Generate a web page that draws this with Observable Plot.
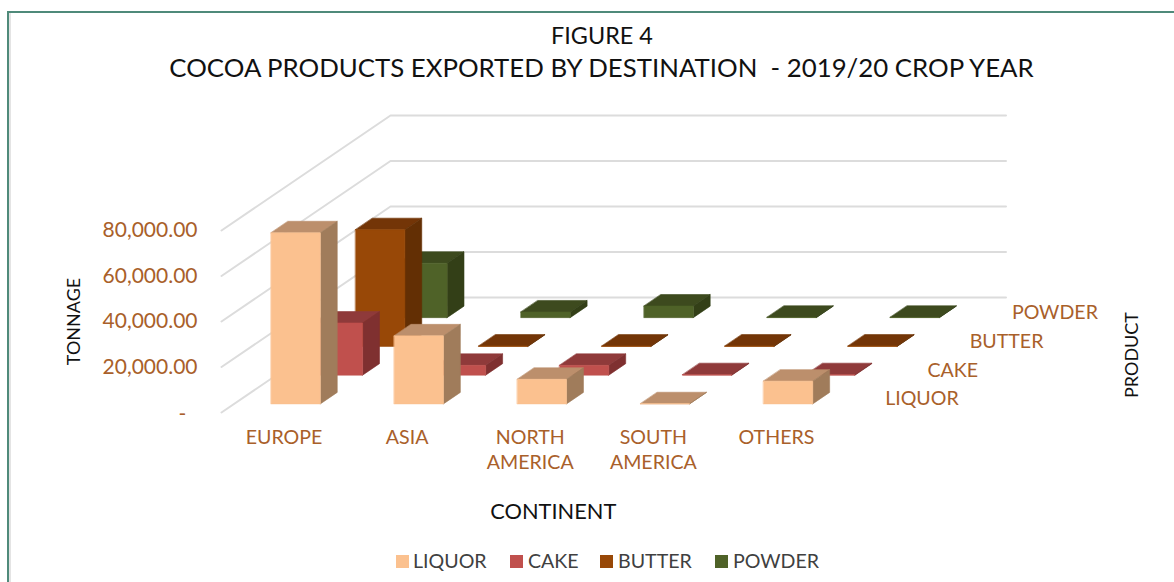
<!DOCTYPE html>
<html>
<head>
<meta charset="utf-8">
<script src="https://cdn.jsdelivr.net/npm/d3@7"></script>
<script src="https://cdn.jsdelivr.net/npm/@observablehq/plot@0.6"></script>
<style>
  html, body { margin: 0; padding: 0; background: #fff; }
  #page { position: relative; width: 1174px; height: 582px; overflow: hidden; font-family: Lato, sans-serif; }
  #frame { position: absolute; left: 7px; top: 11px; width: 1300px; height: 700px; border: 2px solid #4f8a7a; box-shadow: inset 2px 0 0 #e4e4e4; }
  #chart { position: absolute; left: 0; top: 0; }
  .title { position: absolute; left: 0; text-align: center; color: #111; white-space: pre; }
  #fig { top: 22px; width: 1204px; font-size: 23.4px; line-height: 26px; }
  #main { top: 51px; width: 1203px; font-size: 25.8px; line-height: 32px; }
  .item { position: absolute; top: 550px; height: 22px; line-height: 22px; font-size: 19.6px; color: #404040; white-space: nowrap; }
  .swatch { position: absolute; top: 555px; width: 13px; height: 13px; }
</style>
</head>
<body>
<div id="page">
  <div id="frame"></div>
  <div id="chart"></div>
  <div id="fig" class="title">FIGURE 4</div>
  <div id="main" class="title">COCOA PRODUCTS EXPORTED BY DESTINATION  - 2019/20 CROP YEAR</div>
  <div id="legend"></div>
</div>
<script>
const continents = ["EUROPE", "ASIA", "NORTH\nAMERICA", "SOUTH\nAMERICA", "OTHERS"];
const products = ["LIQUOR", "CAKE", "BUTTER", "POWDER"];
const liquor = [75200, 29900, 10800, 60, 10000];
const cake = [22900, 4300, 4300, 200, 200];
const butter = [51300, 150, 120, 150, 150];
const powder = [23900, 2500, 5100, 150, 150];
const series = [liquor, cake, butter, powder];
const tickValues = [0, 20000, 40000, 60000, 80000];
const tickLabels = ["-", "20,000.00", "40,000.00", "60,000.00", "80,000.00"];
const frontColors = ["#fbc18f", "#c0504d", "#984807", "#4f6228"];
const topColors = ["#bc8f6c", "#8f3a3a", "#733507", "#3d4a1e"];
const sideColors = ["#a07c5b", "#7f3030", "#632f04", "#333f17"];
const legendSwatchX = [396, 510, 600, 715];
const legendTextX = [413, 528, 618, 733];

// Oblique floor of the 3D chart: one continent slot across, one product slot in depth.
const catPx = 123.1, depthXPx = 42.25, depthYPx = 28.75, unitPerPx = 20000 / 45.5;
const originX = 221, originY = 412;
const W = 1174, H = 582;
const px = (c, p) => c + p * depthXPx / catPx;
const py = (p, v) => v + p * depthYPx * unitPerPx;
const pt = (c, p, v) => ({X: px(c, p), Y: py(p, v)});

const grid = tickValues.flatMap((v, i) => [pt(0, 0, v), pt(0, 4, v), pt(5, 4, v)].map(d => ({...d, id: i})));

const faces = [];
const gap = 0.3, size = 0.4;
for (let p = products.length - 1; p >= 0; --p) {
  series[p].forEach((v, c) => {
    const c0 = c + gap, c1 = c + gap + size, p0 = p + gap, p1 = p + gap + size;
    const add = (name, color, corners) => corners.forEach(([a, b, h]) =>
      faces.push({...pt(a, b, h), id: `${p}-${c}-${name}`, color}));
    add("top", topColors[p], [[c0, p0, v], [c1, p0, v], [c1, p1, v], [c0, p1, v]]);
    add("side", sideColors[p], [[c1, p0, 0], [c1, p1, 0], [c1, p1, v], [c1, p0, v]]);
    add("front", frontColors[p], [[c0, p0, 0], [c1, p0, 0], [c1, p0, v], [c0, p0, v]]);
  });
}

const chart = Plot.plot({
  width: W, height: H, margin: 0,
  style: {background: "transparent", fontFamily: "Lato, sans-serif"},
  x: {axis: null, domain: [-originX / catPx, (W - originX) / catPx], range: [0, W]},
  y: {axis: null, domain: [(originY - H) * unitPerPx, originY * unitPerPx], range: [H, 0]},
  marks: [
    Plot.line(grid, {x: "X", y: "Y", z: "id", stroke: "#dcdcdc", strokeWidth: 2}),
    Plot.line(faces, {x: "X", y: "Y", z: "id", fill: "color", stroke: "color", strokeWidth: 0.6, curve: "linear-closed"}),
    Plot.text(tickValues.slice(1), {x: () => px(0, 0), y: v => py(0, v), text: (v, i) => tickLabels[i + 1], textAnchor: "end", dx: -24, fontSize: 21, fill: "#a9602a"}),
    Plot.text(tickValues.slice(0, 1), {x: () => px(0, 0), y: v => py(0, v), text: (v, i) => tickLabels[i], dx: -39, dy: 2, fontSize: 21, fill: "#a9602a"}),
    Plot.text(continents, {x: (d, i) => px(i + 0.5, 0), y: () => py(0, 0), text: d => d, dx: 1, dy: 14, lineHeight: 1.28, lineAnchor: "top", fontSize: 19.6, fill: "#a9602a"}),
    Plot.text(products, {x: (d, i) => px(5, i + 0.5), y: (d, i) => py(i + 0.5, 0), text: d => d, textAnchor: "start", dx: 27, dy: 1, fontSize: 19.6, fill: "#a9602a"}),
    Plot.text(["CONTINENT"], {x: () => px(2.5, 0), y: () => py(0, 0), dx: 24, dy: 100, fontSize: 21.8, fill: "#111"}),
    Plot.text(["TONNAGE"], {x: () => px(-1.2, 0), y: () => py(0, 40000), rotate: -90, fontSize: 18, fill: "#111"}),
    Plot.text(["PRODUCT"], {x: () => px(7.4, 0), y: () => py(2, 0), rotate: -90, fontSize: 18, fill: "#111"})
  ]
});
document.getElementById("chart").append(chart);

const legend = document.getElementById("legend");
products.forEach((name, i) => {
  const swatch = document.createElement("span");
  swatch.className = "swatch";
  swatch.style.left = legendSwatchX[i] + "px";
  swatch.style.background = frontColors[i];
  const item = document.createElement("span");
  item.className = "item";
  item.style.left = legendTextX[i] + "px";
  item.textContent = name;
  legend.append(swatch, item);
});
</script>
</body>
</html>
